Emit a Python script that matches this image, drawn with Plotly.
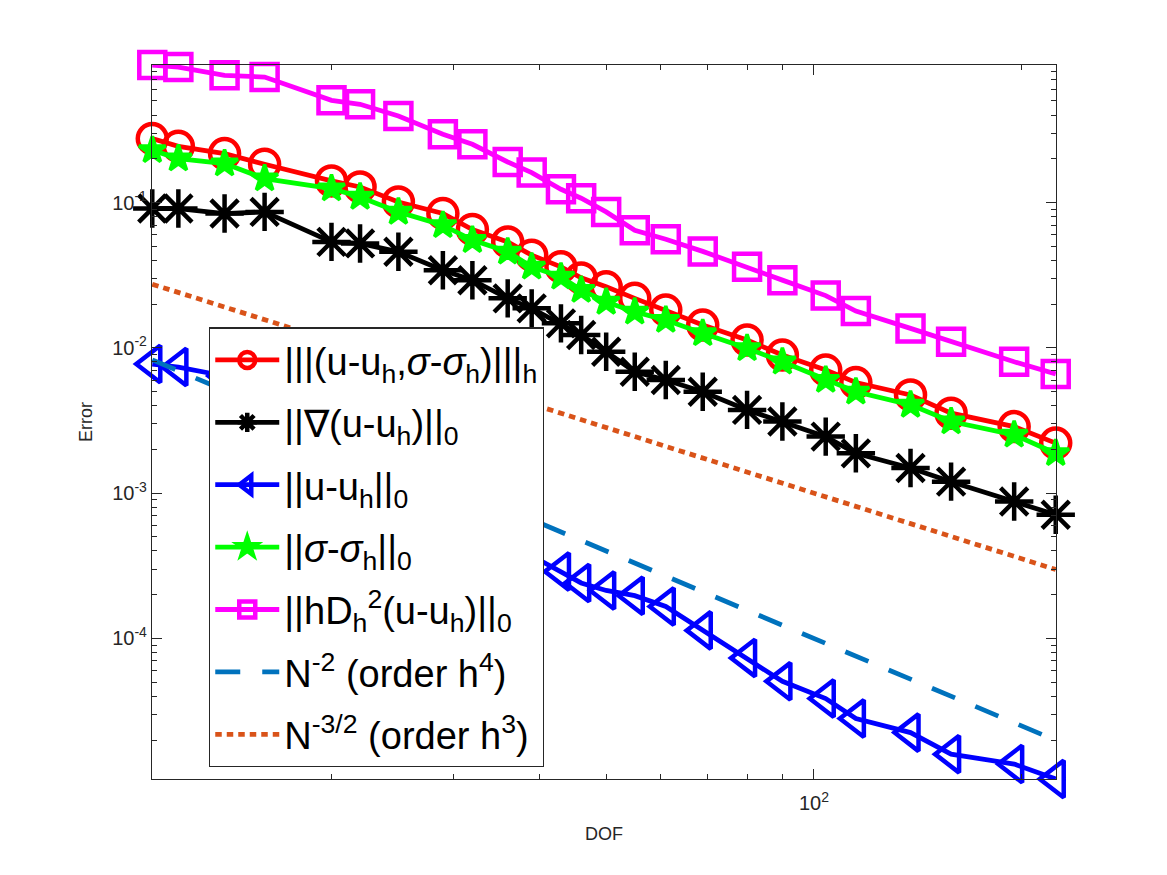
import plotly.graph_objects as go
import numpy as np

# ---------------- data ----------------
dof = [11, 12, 14, 16, 20, 22, 25, 29, 32, 36, 39, 43, 46, 50, 55, 61, 69, 80,
       90, 104, 115, 138, 158, 195, 224]

err_energy = [0.2754, 0.2437, 0.2172, 0.1833, 0.1408, 0.1280, 0.1009, 0.0840,
              0.0652, 0.0536, 0.0434, 0.0361, 0.0303, 0.0263, 0.0219, 0.0182,
              0.01435, 0.01131, 0.00892, 0.00704, 0.00577, 0.00474, 0.00355,
              0.00287, 0.00221]

err_grad = [0.0909, 0.0909, 0.0840, 0.0862, 0.0536, 0.0523, 0.0458, 0.0342,
            0.0292, 0.0219, 0.0187, 0.01474, 0.01225, 0.00940, 0.00685,
            0.00601, 0.00499, 0.00374, 0.00311, 0.00245, 0.00188, 0.00149,
            0.00120, 0.000876, 0.000710]

err_l2 = [0.00774, 0.00738, 0.00640, 0.00529, 0.00272, 0.00232, 0.00154,
          0.000973, 0.000710, 0.000493, 0.000371, 0.000289, 0.000241,
          0.000214, 0.000197, 0.000166, 0.0001137, 7.35e-5, 5.07e-5, 3.86e-5,
          2.81e-5, 2.25e-5, 1.60e-5, 1.368e-5, 1.08e-5]

err_sigma = [0.2288, 0.2006, 0.1853, 0.1462, 0.1248, 0.1093, 0.0862, 0.0698,
             0.0551, 0.0458, 0.0361, 0.0308, 0.0250, 0.0207, 0.0177, 0.01553,
             0.01258, 0.00992, 0.00803, 0.00601, 0.00499, 0.00405, 0.00311,
             0.00252, 0.00188]

err_hd2 = [0.883, 0.855, 0.750, 0.730, 0.505, 0.474, 0.394, 0.2946, 0.2517,
           0.1901, 0.1608, 0.1234, 0.1071, 0.0862, 0.0645, 0.0559, 0.0461,
           0.0361, 0.02924, 0.02288, 0.01790, 0.01361, 0.01101, 0.00802,
           0.00661]

ref_x = [11, 224]
ref_n2 = [8.264e-3, 1.993e-5]      # N^-2
ref_n32 = [2.741e-2, 2.983e-4]     # N^-3/2

names = [
    "|||(u-u<sub>h</sub>,<i>σ</i>-<i>σ</i><sub>h</sub>)|||<sub>h</sub>",
    "||∇(u-u<sub>h</sub>)||<sub>0</sub>",
    "||u-u<sub>h</sub>||<sub>0</sub>",
    "||<i>σ</i>-<i>σ</i><sub>h</sub>||<sub>0</sub>",
    "||hD<sub>h</sub><sup>2</sup>(u-u<sub>h</sub>)||<sub>0</sub>",
    "N<sup>-2</sup> (order h<sup>4</sup>)",
    "N<sup>-3/2</sup> (order h<sup>3</sup>)",
]

y_tick_vals = [1e-4, 1e-3, 1e-2, 1e-1]
y_tick_text = ["10<sup>-4</sup>", "10<sup>-3</sup>", "10<sup>-2</sup>", "10<sup>-1</sup>"]
x_tick_vals = [100]
x_tick_text = ["10<sup>2</sup>"]

# ---------------- figure ----------------
FONT = "Liberation Sans, Arial, Helvetica, sans-serif"
AX = "#262626"

fig = go.Figure()

series = [
    (err_energy, "#FF0000", "circle-open", 29, 4.5),
    (err_grad, "#000000", "asterisk-open", 32, 4.5),
    (err_l2, "#0000FF", "triangle-left-open", 32, 4.5),
    (err_sigma, "#00FF00", "star", 20, 3.5),
    (err_hd2, "#FF00FF", "square-open", 26, 4.5),
]
for i, ((vals, col, sym, size, lw), nm) in enumerate(zip(series, names[:5])):
    fig.add_trace(go.Scatter(
        x=dof, y=vals, mode="lines+markers", name=nm, legendgroup=f"g{i}",
        line=dict(color=col, width=4.8),
        marker=dict(symbol=sym, size=size, color=col,
                    line=dict(color=col, width=lw)),
        cliponaxis=False,
    ))

fig.add_trace(go.Scatter(
    x=ref_x, y=ref_n2, mode="lines", name=names[5], legendgroup="g5",
    line=dict(color="#0072BD", width=4.8, dash="25px,22px"),
))
fig.add_trace(go.Scatter(
    x=ref_x, y=ref_n32, mode="lines", name=names[6], legendgroup="g6",
    line=dict(color="#D95319", width=4.8, dash="6.5px,5px"),
))

all_y = err_energy + err_grad + err_l2 + err_sigma + err_hd2
pad = 4e-4  # tiny pad so edge markers are not dropped by float rounding
x_range = [np.log10(min(dof)) - pad, np.log10(max(dof)) + pad]
y_range = [np.log10(min(all_y)) - pad, np.log10(max(all_y)) + pad]

y_minor = [m * 10.0 ** e for e in range(-5, 0) for m in range(2, 10)]
y_minor = [v for v in y_minor if 10 ** y_range[0] < v < 10 ** y_range[1]]
x_minor = [m * 10.0 ** e for e in range(1, 3) for m in range(2, 10)]
x_minor = [v for v in x_minor if 10 ** x_range[0] < v < 10 ** x_range[1]]

axis_common = dict(
    type="log", showline=True, linecolor=AX, linewidth=1.3, mirror="ticks",
    ticks="inside", ticklen=10, tickwidth=1.3, tickcolor=AX,
    showgrid=False, zeroline=False,
    tickfont=dict(family=FONT, size=20, color=AX),
    title_font=dict(family=FONT, size=18, color=AX),
)

fig.update_xaxes(
    **axis_common, range=x_range, tickmode="array",
    tickvals=x_tick_vals, ticktext=x_tick_text, ticklabelstandoff=6,
    minor=dict(tickmode="array", tickvals=x_minor, ticks="inside",
               ticklen=5, tickwidth=1.3, tickcolor=AX, showgrid=False),
    title=dict(text="DOF", standoff=14),
)
fig.update_yaxes(
    **axis_common, range=y_range, tickmode="array",
    tickvals=y_tick_vals, ticktext=y_tick_text,
    minor=dict(tickmode="array", tickvals=y_minor, ticks="inside",
               ticklen=5, tickwidth=1.3, tickcolor=AX, showgrid=False),
    title=dict(text="Error", standoff=14),
)

# page body has an 8px margin: shift the figure so the axes land where
# they are in the reference
fig.update_layout(
    width=1159, height=867,
    margin=dict(l=144, r=111, t=57, b=96, autoexpand=False),
    paper_bgcolor="white", plot_bgcolor="white",
    font=dict(family=FONT, color=AX),
    showlegend=True,
    legend=dict(
        x=0.063, y=0.6325, xanchor="left", yanchor="top",
        bgcolor="white", bordercolor=AX, borderwidth=1.3,
        font=dict(family=FONT, size=38, color="#000000"),
        itemwidth=64, itemsizing="trace", tracegroupgap=10,
        traceorder="grouped",
    ),
)

fig.write_html("out.html")
